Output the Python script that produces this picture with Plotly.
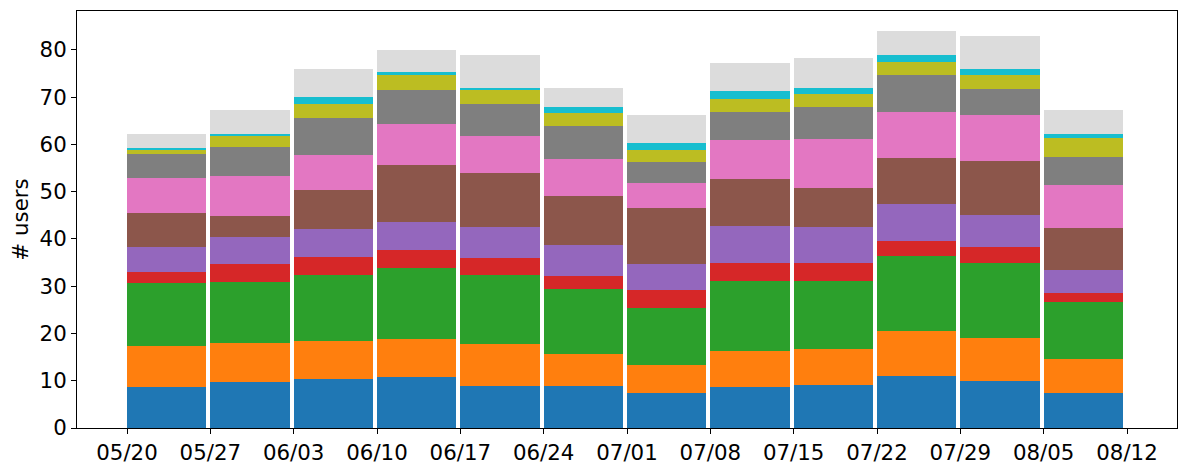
import plotly.graph_objects as go
import pandas as pd

weeks = ["2019-05-20", "2019-05-27", "2019-06-03", "2019-06-10", "2019-06-17", "2019-06-24",
         "2019-07-01", "2019-07-08", "2019-07-15", "2019-07-22", "2019-07-29", "2019-08-05"]
tick_dates = weeks + ["2019-08-12"]
tick_labels = [pd.Timestamp(d).strftime("%m/%d") for d in tick_dates]

s_blue   = [8.7, 9.7, 10.3, 10.7, 8.8, 8.8, 7.4, 8.6, 9.2, 10.9, 9.9, 7.5]
s_orange = [8.7, 8.3, 8.0, 8.1, 8.9, 6.8, 5.9, 7.6, 7.6, 9.7, 9.2, 7.0]
s_green  = [13.3, 12.9, 14.1, 15.0, 14.7, 13.7, 12.0, 14.8, 14.2, 15.7, 15.7, 12.1]
s_red    = [2.3, 3.8, 3.8, 3.9, 3.6, 2.9, 3.8, 4.0, 4.0, 3.3, 3.4, 1.9]
s_purple = [5.3, 5.7, 5.9, 5.9, 6.6, 6.6, 5.5, 7.8, 7.6, 7.7, 6.8, 5.0]
s_brown  = [7.2, 4.5, 8.3, 12.1, 11.4, 10.2, 12.0, 9.8, 8.2, 9.9, 11.4, 8.7]
s_pink   = [7.4, 8.4, 7.3, 8.5, 7.8, 8.0, 5.3, 8.4, 10.4, 9.7, 9.7, 9.3]
s_gray   = [5.1, 6.1, 7.8, 7.2, 6.8, 6.8, 4.3, 5.9, 6.6, 7.7, 5.5, 5.9]
s_olive  = [1.0, 2.4, 3.1, 3.2, 3.0, 2.9, 2.5, 2.6, 2.9, 2.9, 3.0, 4.0]
s_cyan   = [0.3, 0.4, 1.5, 0.6, 0.4, 1.3, 1.5, 1.7, 1.3, 1.5, 1.4, 0.7]
s_light  = [2.8, 5.0, 5.9, 4.8, 7.0, 4.0, 5.9, 5.9, 6.2, 5.0, 7.0, 5.1]

series = [s_blue, s_orange, s_green, s_red, s_purple, s_brown,
          s_pink, s_gray, s_olive, s_cyan, s_light]
colors = ["#1f77b4", "#ff7f0e", "#2ca02c", "#d62728", "#9467bd", "#8c564b",
          "#e377c2", "#7f7f7f", "#bcbd22", "#17becf", "#dcdcdc"]

DAY = 86400000
fig = go.Figure()
for vals, col in zip(series, colors):
    fig.add_trace(go.Bar(
        x=weeks, y=vals, marker=dict(color=col, line=dict(width=0)),
        offset=0, width=[6.65 * DAY] * len(weeks), showlegend=False,
    ))

t0 = pd.Timestamp(tick_dates[0]) - pd.Timedelta(days=4.2)
t1 = pd.Timestamp(tick_dates[-1]) + pd.Timedelta(days=4.2)

FS = 21.33
# page body has an 8px default margin; compensate so the plot area sits where the reference has it
fig.update_layout(
    barmode="stack",
    width=1181, height=462,
    margin=dict(l=69, r=12, t=3, b=42, autoexpand=False),
    plot_bgcolor="white", paper_bgcolor="white",
    font=dict(family="DejaVu Sans", size=FS, color="black"),
    bargap=0,
)
fig.update_xaxes(
    type="date", range=[t0, t1],
    tickvals=tick_dates, ticktext=tick_labels,
    showgrid=False, showline=True, linecolor="black", linewidth=1, mirror=True,
    ticks="outside", ticklen=5, tickcolor="black", zeroline=False, automargin=False,
    tickfont=dict(size=FS),
)
fig.update_yaxes(
    range=[0, 88.2], tickvals=[0, 10, 20, 30, 40, 50, 60, 70, 80],
    showgrid=False, showline=True, linecolor="black", linewidth=1, mirror=True,
    ticks="outside", ticklen=5, tickcolor="black", zeroline=False, automargin=False,
    tickfont=dict(size=FS),
    title=dict(text="# users", standoff=8, font=dict(size=FS)),
)
fig.write_html("out.html")
